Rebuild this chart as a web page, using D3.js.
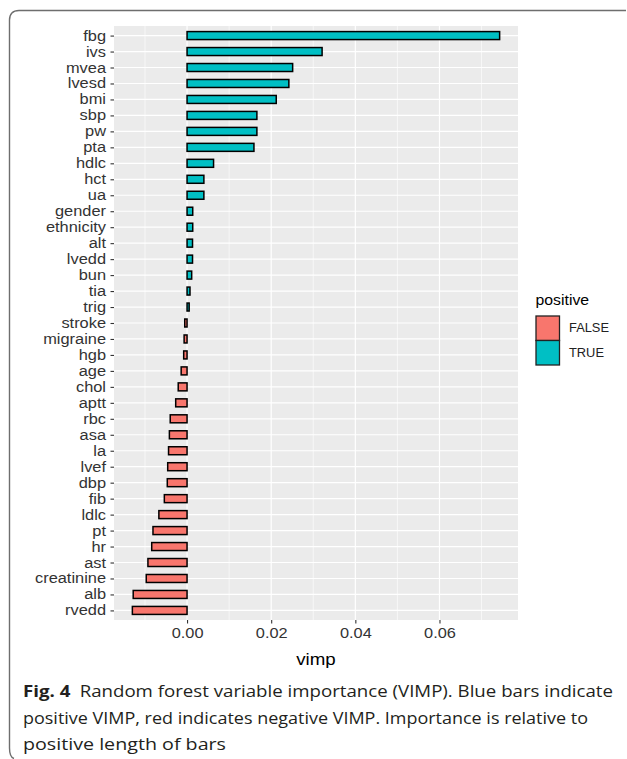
<!DOCTYPE html>
<html>
<head>
<meta charset="utf-8">
<script src="https://cdn.jsdelivr.net/npm/d3@7"></script>
<style>
  body { margin: 0; background: #fff; }
  svg { display: block; }
</style>
</head>
<body>
<script>
var w = 627;
var h = 759;

// variables, top to bottom
var vars = ["fbg", "ivs", "mvea", "lvesd", "bmi", "sbp", "pw", "pta", "hdlc", "hct", "ua",
  "gender", "ethnicity", "alt", "lvedd", "bun", "tia", "trig", "stroke", "migraine", "hgb",
  "age", "chol", "aptt", "rbc", "asa", "la", "lvef", "dbp", "fib", "ldlc", "pt", "hr", "ast",
  "creatinine", "alb", "rvedd"];

// VIMP values
var vimp = [0.0743, 0.0321, 0.0251, 0.0242, 0.0212, 0.0166, 0.0166, 0.0159, 0.0063, 0.0040, 0.0040,
  0.00135, 0.00135, 0.0013, 0.0013, 0.0011, 0.0007, 0.0005, -0.00055, -0.0007, -0.0008,
  -0.0014, -0.0021, -0.0027, -0.0040, -0.0042, -0.0044, -0.0046, -0.0047, -0.0054, -0.0067, -0.0081, -0.0084, -0.0093,
  -0.0097, -0.0128, -0.0130];

var xTicks = [0, 0.02, 0.04, 0.06];
var xMinor = [-0.01, 0.01, 0.03, 0.05, 0.07];
var legendKeys = ["FALSE", "TRUE"];
var legendColors = ["#F8766D", "#00BFC4"];
var captionBold = "Fig. 4";
var captionLines = [
  "Random forest variable importance (VIMP). Blue bars indicate",
  "positive VIMP, red indicates negative VIMP. Importance is relative to",
  "positive length of bars"
];

var data = vars.map(function(v, i) {
  return {name: v, value: vimp[i], positive: vimp[i] > 0 ? "TRUE" : "FALSE"};
});

var font = "'Liberation Sans', Arial, sans-serif";

// the figure is a bit wider than tall, so stretch text sideways
function stretch(sel, k) {
  sel.each(function() {
    var len = this.getComputedTextLength();
    d3.select(this)
      .attr("textLength", len * k)
      .attr("lengthAdjust", "spacingAndGlyphs");
  });
}

var svg = d3.select("body").append("svg")
  .attr("width", w)
  .attr("height", h);

// outer frame (open on the right)
svg.append("path")
  .attr("d", "M626,10.5 H19 Q9.5,10.5 9.5,20 V748 Q9.5,757 14,758.5")
  .attr("fill", "none")
  .attr("stroke", "#6e6e6e")
  .attr("stroke-width", 1.4);

var panel = {left: 114, right: 518, top: 26, bottom: 620};

// ggplot-style 5% expansion
var lo = d3.min(vimp.concat([0])), hi = d3.max(vimp.concat([0]));
var pad = (hi - lo) * 0.05;

var x = d3.scaleLinear()
  .domain([lo - pad, hi + pad])
  .range([panel.left, panel.right]);

var y = d3.scalePoint()
  .domain(vars)
  .range([panel.top, panel.bottom])
  .padding(0.6);

var color = d3.scaleOrdinal().domain(legendKeys).range(legendColors);

// panel background
svg.append("rect")
  .attr("x", panel.left).attr("y", panel.top)
  .attr("width", panel.right - panel.left)
  .attr("height", panel.bottom - panel.top)
  .attr("fill", "#EBEBEB");

// minor grid
svg.append("g").selectAll("line")
  .data(xMinor.filter(function(d) { return x(d) > panel.left && x(d) < panel.right; }))
  .enter().append("line")
  .attr("x1", function(d) { return x(d); })
  .attr("x2", function(d) { return x(d); })
  .attr("y1", panel.top).attr("y2", panel.bottom)
  .attr("stroke", "#fff").attr("stroke-width", 0.6);

// major grid
svg.append("g").selectAll("line")
  .data(xTicks)
  .enter().append("line")
  .attr("x1", function(d) { return x(d); })
  .attr("x2", function(d) { return x(d); })
  .attr("y1", panel.top).attr("y2", panel.bottom)
  .attr("stroke", "#fff").attr("stroke-width", 1.2);

svg.append("g").selectAll("line")
  .data(vars)
  .enter().append("line")
  .attr("x1", panel.left).attr("x2", panel.right)
  .attr("y1", function(d) { return y(d); })
  .attr("y2", function(d) { return y(d); })
  .attr("stroke", "#fff").attr("stroke-width", 1.2);

// bars
var bh = y.step() * 0.5;
svg.append("g").selectAll("rect")
  .data(data)
  .enter().append("rect")
  .attr("x", function(d) { return x(Math.min(0, d.value)); })
  .attr("width", function(d) { return Math.abs(x(d.value) - x(0)); })
  .attr("y", function(d) { return y(d.name) - bh / 2; })
  .attr("height", bh)
  .attr("fill", function(d) { return color(d.positive); })
  .attr("stroke", "#000")
  .attr("stroke-width", 1.5);

// y axis
var yAxis = svg.append("g")
  .attr("transform", "translate(" + panel.left + ",0)")
  .call(d3.axisLeft(y).tickSize(3.5).tickPadding(4.5));
yAxis.select(".domain").remove();
yAxis.selectAll("line").attr("stroke", "#333").attr("stroke-width", 1.1);
yAxis.selectAll("text")
  .attr("fill", "#333")
  .style("font-family", font)
  .style("font-size", "14px")
  .call(stretch, 1.17);

// x axis
var xAxis = svg.append("g")
  .attr("transform", "translate(0," + panel.bottom + ")")
  .call(d3.axisBottom(x).tickValues(xTicks).tickFormat(d3.format(".2f")).tickSize(3.5).tickPadding(3.5));
xAxis.select(".domain").remove();
xAxis.selectAll("line").attr("stroke", "#333").attr("stroke-width", 1.1);
xAxis.selectAll("text")
  .attr("fill", "#333")
  .style("font-family", font)
  .style("font-size", "15px")
  .call(stretch, 1.09);

svg.append("text")
  .attr("x", (panel.left + panel.right) / 2)
  .attr("y", 665)
  .attr("text-anchor", "middle")
  .style("font-family", font)
  .style("font-size", "17px")
  .attr("fill", "#000")
  .text("vimp")
  .call(stretch, 1.1);

// legend
var lg = svg.append("g").attr("transform", "translate(535.5,0)");
lg.append("text")
  .attr("x", 0).attr("y", 305)
  .style("font-family", font)
  .style("font-size", "14.5px")
  .text("positive")
  .call(stretch, 1.09);

var ks = 24.5;
legendKeys.forEach(function(k, i) {
  var ky = 316 + i * ks;
  lg.append("rect")
    .attr("x", 0.5).attr("y", ky)
    .attr("width", ks - 1).attr("height", ks)
    .attr("fill", color(k))
    .attr("stroke", "#222")
    .attr("stroke-width", 1.3);
  lg.append("text")
    .attr("x", 33.5).attr("y", ky + ks / 2)
    .attr("dy", "0.35em")
    .style("font-family", font)
    .style("font-size", "12px")
    .attr("fill", "#222")
    .text(k)
    .call(stretch, 1.07);
});

// caption
var capWidths = [590, 565, 203];
var capY = [697, 724, 750];
captionLines.forEach(function(line, i) {
  var t = svg.append("text")
    .attr("x", 23).attr("y", capY[i])
    .attr("textLength", capWidths[i])
    .attr("lengthAdjust", "spacingAndGlyphs")
    .style("font-family", "'Open Sans', 'Noto Sans', sans-serif")
    .style("font-size", "16.5px")
    .attr("fill", "#231f20");
  if (i === 0) {
    t.append("tspan").style("font-weight", "bold").text(captionBold);
    t.append("tspan").text("\u2002" + line);
  } else {
    t.text(line);
  }
});
</script>
</body>
</html>
